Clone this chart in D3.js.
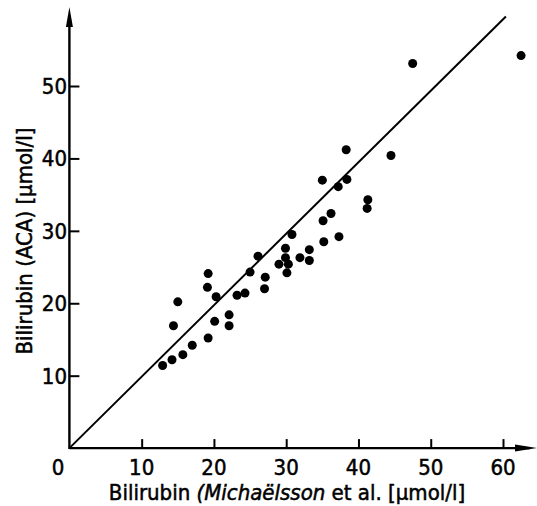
<!DOCTYPE html>
<html>
  <head>
    <meta charset="utf-8">
    <title>Bilirubin ACA vs Michaelsson</title>
    <script src="https://d3js.org/d3.v7.min.js"></script>
    <style>
      body { margin: 0; background: #fff; }
      svg text { font-family: "Liberation Sans Narrow", "DejaVu Sans Condensed", sans-serif; fill: #000; stroke: #000; stroke-width: 0.5px; }
    </style>
  </head>
  <body>
    <div class="chart"></div>
    <script>

    // readings: [Michaelsson, ACA] in umol/l
    var michaelsson = [12.9, 14.2, 15.7, 17.0, 19.2, 14.4, 15.0, 20.1, 22.1, 22.1,
                       19.2, 19.1, 20.3, 23.2, 24.3, 25.0, 26.1, 27.1, 27.0, 29.0,
                       30.3, 30.1, 29.9, 29.9, 30.8, 31.9, 33.2, 33.2, 35.2, 37.3,
                       35.1, 36.2, 37.2, 35.0, 38.4, 38.3, 41.3, 41.2, 44.5, 47.5, 62.5];
    var aca = [11.4, 12.2, 12.9, 14.2, 15.2, 16.9, 20.2, 17.5, 18.4, 16.9,
               24.1, 22.2, 20.9, 21.1, 21.4, 24.3, 26.5, 23.6, 22.0, 25.4,
               25.4, 24.2, 26.3, 27.6, 29.5, 26.3, 25.9, 27.4, 28.5, 29.2,
               31.4, 32.4, 36.1, 37.0, 37.1, 41.2, 34.3, 33.1, 40.4, 53.1, 54.2];
    var xTicks = [10, 20, 30, 40, 50, 60];
    var yTicks = [10, 20, 30, 40, 50];
    var lineEnd = [60.4, 59.6];  // identity line drawn from the origin

    var width = 537, height = 506;

    var x = d3.scaleLinear().domain([0, 60]).range([69.4, 503]);
    var y = d3.scaleLinear().domain([0, 50]).range([448.1, 86]);

    var svg = d3.select(".chart").append("svg")
      .attr("width", width).attr("height", height);

    // axes with inward ticks
    var xAxis = svg.append("g").attr("transform", "translate(0," + y(0) + ")")
      .call(d3.axisTop(x).tickValues(xTicks).tickSize(9).tickFormat("").tickSizeOuter(0));
    var yAxis = svg.append("g").attr("transform", "translate(" + x(0) + ",0)")
      .call(d3.axisRight(y).tickValues(yTicks).tickSize(10).tickFormat("").tickSizeOuter(0));

    [xAxis, yAxis].forEach(function(g){
      g.select(".domain").remove();
      g.selectAll("line").attr("stroke", "#000").attr("stroke-width", 2);
    });

    // axis lines + arrows
    svg.append("line").attr("x1", x(0)).attr("x2", 530).attr("y1", y(0)).attr("y2", y(0))
      .attr("stroke", "#000").attr("stroke-width", 2.4);
    svg.append("line").attr("x1", x(0)).attr("x2", x(0)).attr("y1", y(0) + 1).attr("y2", 16)
      .attr("stroke", "#000").attr("stroke-width", 2.4);
    svg.append("path")
      .attr("d", "M" + x(0) + ",7 L" + (x(0) - 3.5) + ",27 L" + (x(0) + 3.5) + ",27 Z")
      .attr("fill", "#000");
    svg.append("path")
      .attr("d", "M537," + y(0) + " L515," + (y(0) - 3.5) + " L515," + (y(0) + 3.5) + " Z")
      .attr("fill", "#000");

    // tick labels
    svg.selectAll(".xl").data(xTicks).enter().append("text")
      .attr("class", "xl")
      .attr("x", function(d){ return x(d); })
      .attr("y", 475)
      .attr("text-anchor", "middle")
      .attr("font-size", "22px")
      .text(function(d){ return d; });
    svg.append("text").attr("x", 58).attr("y", 475).attr("text-anchor", "middle")
      .attr("font-size", "22px").text("0");

    svg.selectAll(".yl").data(yTicks).enter().append("text")
      .attr("class", "yl")
      .attr("x", 67)
      .attr("y", function(d){ return y(d); })
      .attr("dy", "0.36em")
      .attr("text-anchor", "end")
      .attr("font-size", "22px")
      .text(function(d){ return d; });

    // axis titles
    var xt = svg.append("text").attr("x", 287).attr("y", 500)
      .attr("text-anchor", "middle").attr("font-size", "22px");
    xt.append("tspan").text("Bilirubin ");
    xt.append("tspan").attr("font-style", "italic").text("(Michaëlsson");
    xt.append("tspan").text(" et al. [µmol/l]");

    svg.append("text")
      .attr("transform", "translate(32,241) rotate(-90)")
      .attr("text-anchor", "middle").attr("font-size", "22px")
      .text("Bilirubin (ACA) [µmol/l]");

    // identity line
    svg.append("line")
      .attr("x1", x(0)).attr("y1", y(0))
      .attr("x2", x(lineEnd[0])).attr("y2", y(lineEnd[1]))
      .attr("stroke", "#000").attr("stroke-width", 2);

    // points
    svg.selectAll(".dot").data(michaelsson).enter().append("circle")
      .attr("class", "dot")
      .attr("cx", function(d){ return x(d); })
      .attr("cy", function(d, i){ return y(aca[i]); })
      .attr("r", 4.5)
      .attr("fill", "#000");

    </script>
  </body>
</html>
